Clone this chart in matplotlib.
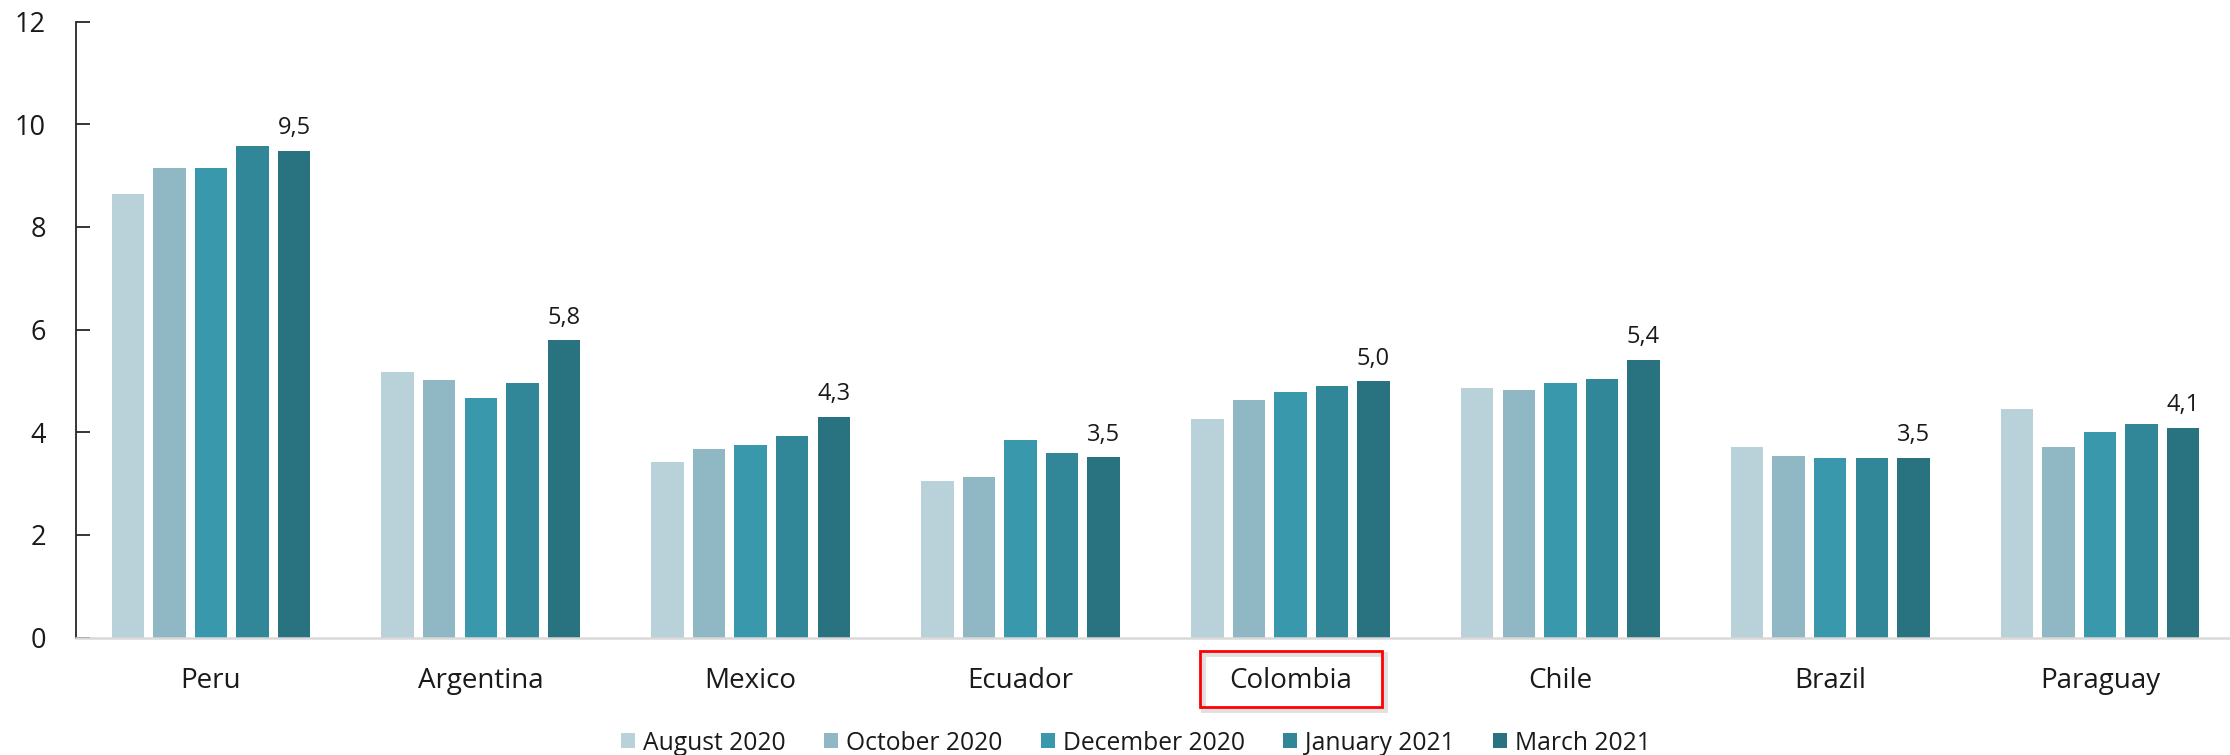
import numpy as np
import matplotlib
matplotlib.use("Agg")
import matplotlib.pyplot as plt
from matplotlib.patches import Rectangle

countries = ["Peru", "Argentina", "Mexico", "Ecuador", "Colombia", "Chile", "Brazil", "Paraguay"]
series_names = ["August 2020", "October 2020", "December 2020", "January 2021", "March 2021"]
aug_2020 = [8.65, 5.17, 3.42, 3.04, 4.25, 4.87, 3.71, 4.46]
oct_2020 = [9.15, 5.01, 3.67, 3.12, 4.62, 4.83, 3.54, 3.71]
dec_2020 = [9.15, 4.66, 3.75, 3.84, 4.78, 4.96, 3.50, 4.00]
jan_2021 = [9.57, 4.96, 3.92, 3.59, 4.91, 5.03, 3.50, 4.17]
mar_2021 = [9.48, 5.79, 4.30, 3.51, 4.99, 5.41, 3.50, 4.08]
series = [aug_2020, oct_2020, dec_2020, jan_2021, mar_2021]
colors = ["#B9D2D9", "#8FB7C4", "#3A98AD", "#318797", "#297280"]
yticks = [0, 2, 4, 6, 8, 10, 12]

plt.rcParams['font.family'] = ['Open Sans', 'DejaVu Sans']

W, H = 2230, 755
fig = plt.figure(figsize=(W / 100, H / 100), dpi=100)
left_px, right_px, top_px, bottom_px = 76, 2235, 21.7, 637.5
ax = fig.add_axes([left_px / W, (H - bottom_px) / H,
                   (right_px - left_px) / W, (bottom_px - top_px) / H])

x = np.arange(len(countries))
pitch = 0.154
width = 0.12
handles = []
for i, (vals, col, name) in enumerate(zip(series, colors, series_names)):
    pos = x + (i - 2) * pitch
    b = ax.bar(pos, vals, width=width, color=col, label=name, linewidth=0, zorder=2)
    handles.append(b)
    if i == len(series) - 1:
        for xp, v in zip(pos, vals):
            ax.annotate(f"{v:.1f}".replace(".", ","), (xp, v), xytext=(0, 12),
                        textcoords="offset points", ha="center", va="baseline",
                        fontsize=17, color="#1a1a1a")

ax.set_xlim(-0.5, len(countries) - 0.5)
ax.set_ylim(0, 12)
ax.set_yticks(yticks)
ax.set_yticklabels([str(t) for t in yticks], fontsize=19.5, color="#1a1a1a")
ax.set_xticks(x)
ax.set_xticklabels(countries, fontsize=20, color="#1a1a1a")
ax.tick_params(axis="y", direction="in", length=10, width=1.3, color="#262626", pad=21.6)
ax.tick_params(axis="x", length=0, pad=21.5)
for s in ["top", "right"]:
    ax.spines[s].set_visible(False)
ax.spines["left"].set_color("#262626")
ax.spines["left"].set_linewidth(1.3)
ax.spines["bottom"].set_color("#D9D9D9")
ax.spines["bottom"].set_linewidth(1.8)
ax.spines["bottom"].set_zorder(3)

# red highlight box around Colombia label
bx0, bx1, by0, by1 = 1200, 1382, 650.7, 706.7
shadow = Rectangle(((bx0 + 3) / W, (H - by1 - 3) / H), (bx1 - bx0) / W, (by1 - by0) / H,
                   transform=fig.transFigure, fill=False, edgecolor="#000000",
                   alpha=0.12, linewidth=3.5)
fig.patches.append(shadow)
box = Rectangle((bx0 / W, (H - by1) / H), (bx1 - bx0) / W, (by1 - by0) / H,
                transform=fig.transFigure, fill=False, edgecolor="#FF0000", linewidth=2.0)
fig.patches.append(box)

leg = fig.legend(handles=handles, labels=series_names, loc="center",
                 bbox_to_anchor=(1136 / W, 1 - 743 / H), ncol=5, frameon=False,
                 fontsize=17.7, handlelength=0.57, handleheight=0.57,
                 handletextpad=0.33, columnspacing=1.55, borderaxespad=0, borderpad=0)
for t in leg.get_texts():
    t.set_color("#1a1a1a")

fig.savefig("out.png", dpi=100)
